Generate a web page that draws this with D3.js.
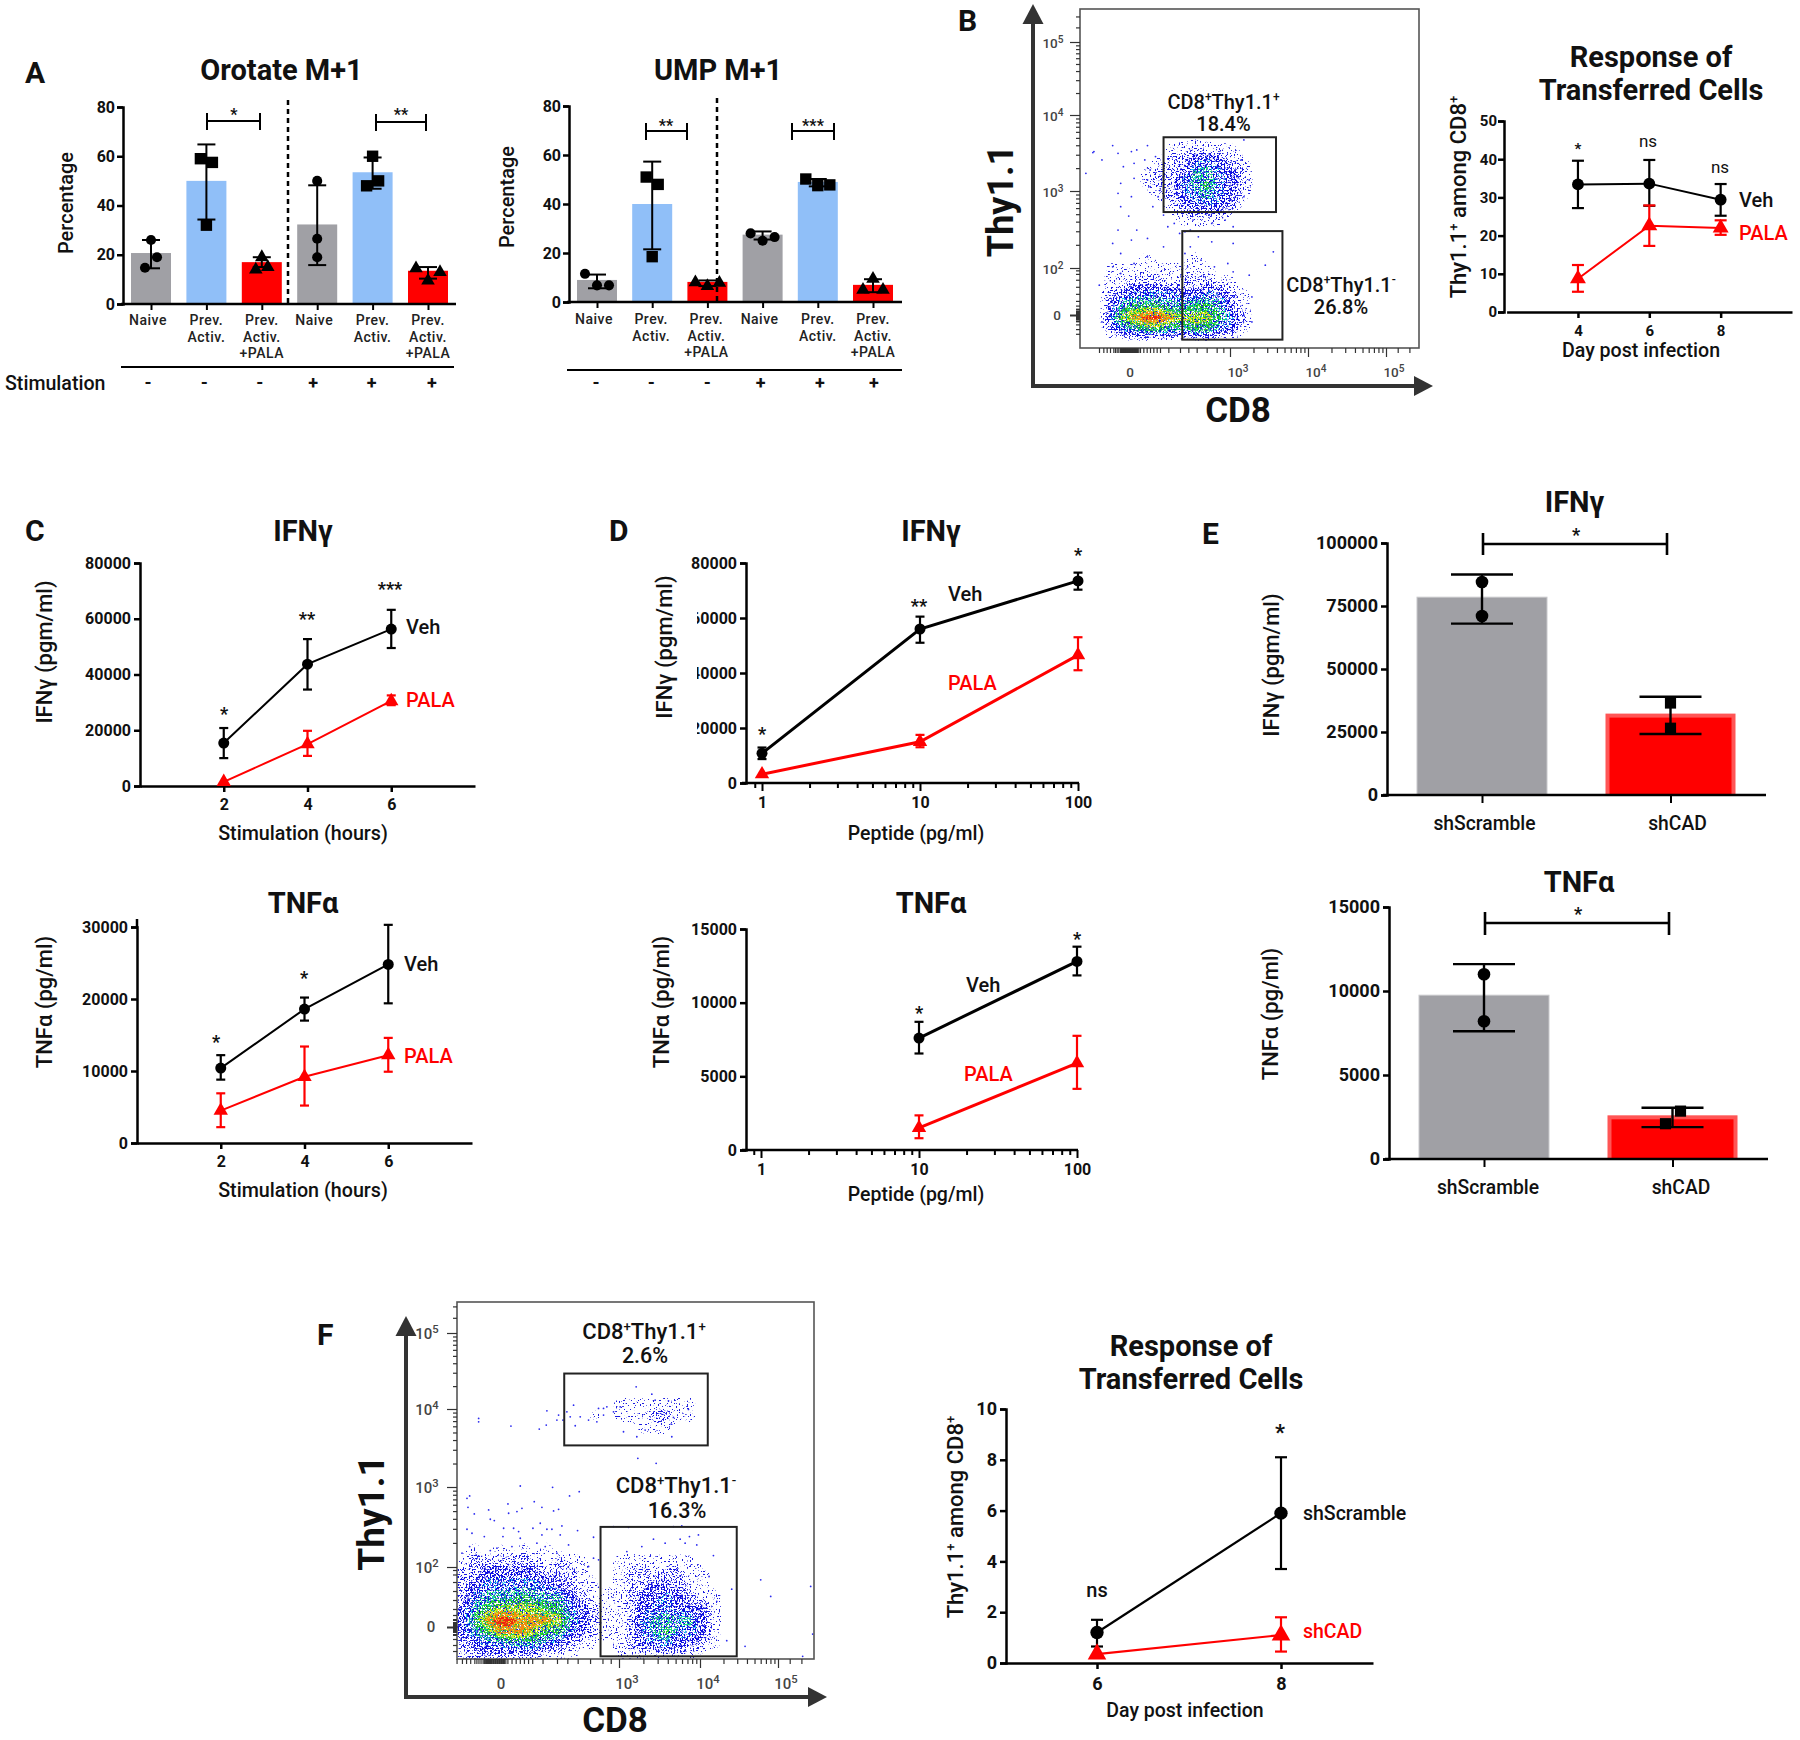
<!DOCTYPE html>
<html><head><meta charset="utf-8">
<script src="https://cdn.jsdelivr.net/npm/d3@7"></script>
<style>html,body{margin:0;background:#fff}svg{display:block}text{font-family:Roboto,"Noto Sans",sans-serif;fill:#111}</style>
</head><body>
<script>
// ---------- DATA: panel A ----------
const barCategories = ["Naive","Prev. Activ.","Prev. Activ. +PALA","Naive","Prev. Activ.","Prev. Activ. +PALA"];
const stimulationSigns = ["-","-","-","+","+","+"];
const orotateMeans = [20.7,50,17,32.3,53.5,13.5];
const orotateLow = [14.5,34.3,15,15.8,46.8,10.3];
const orotateHigh = [26,64.8,19,48.2,59.5,15];
const orotatePoints = [[26,19,14.7],[59,57.5,32],[19,14,15],[50,26.5,19],[60,50,48],[14.5,13,9.5]];
const umpMeans = [9,40,8.2,27.5,49,7];
const umpLow = [5.6,21.5,6.5,25.5,47.2,4];
const umpHigh = [11.2,57.3,8.8,28.8,50.2,9.3];
const umpPoints = [[11.5,6.8,6.8],[51,48,18.5],[8,6.5,7.8],[28,26.5,25],[50.2,47.5,47.8],[9.5,5,5]];
const barTicks = [0,20,40,60,80];
// ---------- DATA: panel B response ----------
const dayB = [4,6,8];
const vehB = [33.4,33.6,29.4], vehBLow = [27.2,27.8,25.2], vehBHigh = [39.6,39.8,33.5];
const palaB = [8.7,22.6,22], palaBLow = [5.3,17.3,20.2], palaBHigh = [12.3,27.9,24];
// ---------- DATA: panel C ----------
const hours = [2,4,6];
const vehIfnC = [15400,43700,56300], vehIfnCLow = [10000,34600,49500], vehIfnCHigh = [20800,52700,63200];
const palaIfnC = [1500,15000,30500], palaIfnCLow = [null,10800,29000], palaIfnCHigh = [null,19800,32500];
const vehTnfC = [10400,18600,24800], vehTnfCLow = [8800,17000,19400], vehTnfCHigh = [12200,20200,30300];
const palaTnfC = [4500,9200,12200], palaTnfCLow = [2200,5200,9900], palaTnfCHigh = [6900,13400,14600];
// ---------- DATA: panel D ----------
const peptide = [1,10,100];
const peptideTnf = [10,100];
const vehIfnD = [10800,56000,73500], vehIfnDLow = [8700,51000,70300], vehIfnDHigh = [12900,60500,76500];
const palaIfnD = [3200,15000,46500], palaIfnDLow = [null,13000,41000], palaIfnDHigh = [null,17500,53000];
const vehTnfD = [7600,12800], vehTnfDLow = [6550,11850], vehTnfDHigh = [8700,13800];
const palaTnfD = [1500,5900], palaTnfDLow = [800,4150], palaTnfDHigh = [2350,7750];
// ---------- DATA: panel E ----------
const shCategories = ["shScramble","shCAD"];
const ifnE = [78500,32300], ifnELow = [68000,24200], ifnEHigh = [87500,39000];
const ifnEPoints = [[84500,71000],[36500,26500]];
const tnfE = [9750,2600], tnfELow = [7600,1900], tnfEHigh = [11600,3050];
const tnfEPoints = [[11000,8200],[2850,2100]];
// ---------- DATA: panel F response ----------
const dayF = [6,8];
const scrambleF = [1.2,5.9], scrambleFLow = [0.65,3.7], scrambleFHigh = [1.7,8.1];
const cadF = [0.35,1.1], cadFLow = [null,0.45], cadFHigh = [null,1.8];
// ---------- DATA: cytometry density, one digit per bin (0 empty .. 9 hottest) ----------
const flowBDensity = [
"","","","","","","","","","","",
"00000001121110",
"00000012234321000000",
"00000122355432000000",
"00000122456432000000",
"00000012345431000000",
"00000001233320000000",
"00000000111100000000",
"","",
"00000100010000",
"00111111111000",
"00112221222110",
"00234444334421000000",
"00356665566531000000",
"00478998777642000000",
"00245665566431000000",
""];
const flowFDensity = [
"","","","","","","","",
"000000000000011111110000",
"000000000001011122110000",
"000000000000000111000000",
"","","","","","","","","",
"010101010000000000000000",
"122222212110011111110000",
"223333322210012212211000",
"234444433211012233211000",
"245556555321112334321100",
"356777766432112344333100",
"368998887532112455553100",
"356888766432112456443100",
"234455543211012344332100",
"122222211100011111110000"];
// isolated events, in plot channel units
const flowBEvents = [[285,437],[248,458],[265,480],[235,520],[295,460],[320,455],[330,450],[350,437],[305,500],[325,490],[345,480],[355,510],[365,470],[300,550],[325,535],[350,540],[295,580],[355,560],[370,590],[320,590],[300,620],[360,620],[315,648],[380,645],[400,670],[435,660],[465,645],[495,660],[510,680],[470,670],[388,680],[295,690],[330,690],[410,700],[285,730],[320,720],[350,715],[380,740],[350,770],[420,695],[430,690],[445,710],[470,725],[510,730],[430,740],[420,760],[585,755],[570,795],[540,825],[510,815],[475,800],[450,780],[300,760],[325,790],[260,855],[545,890],[545,965],[530,945],[265,965],[500,790],[425,800],[285,800],[300,820],[530,420],[525,480],[540,540],[530,590],[505,600],[250,455]];
const flowFEvents = [[415,415],[415,425],[512,438],[597,447],[620,392],[618,435],[655,405],[650,420],[668,420],[680,395],[700,375],[690,410],[705,437],[720,410],[745,420],[770,425],[775,385],[790,385],[800,380],[790,405],[820,395],[840,380],[888,320],[935,342],[945,360],[985,362],[1045,388],[995,470],[890,470],[850,455],[915,450],[993,432],[1000,412],[893,535],[948,550],[540,618],[637,622],[717,635],[688,648],[582,665],[380,655],[388,648],[383,682],[445,690],[503,672],[545,685],[530,695],[505,700],[402,702],[450,718],[462,722],[605,682],[640,693],[655,688],[380,748],[395,760],[432,770],[490,745],[520,745],[535,755],[578,745],[600,730],[620,748],[635,748],[665,738],[712,752],[760,772],[488,770],[540,775],[605,765],[660,765],[590,790],[615,800],[650,820],[685,795],[515,800],[450,812],[470,805],[388,800],[365,820],[415,828],[760,835],[745,860],[775,840],[860,815],[905,800],[940,778],[975,790],[1020,778],[1048,770],[1075,765],[1035,790],[1070,795],[1120,827],[1107,890],[1175,928],[1262,900],[1292,950],[1412,920],[1418,1063],[1388,1130],[1215,1100],[1160,1083],[1130,965],[1000,740],[1025,738],[865,742],[820,740]];
const flowBGates = [[380,590,412,636],[415,602,693,1018]];
const flowFGates = [[672,1103,280,496],[781,1190,741,1130]];
const flowDecades = [2,3,4,5];
const nearZeroY = [-0.8,-0.6,-0.4,-0.25,-0.15,-0.1,-0.05,0,0.05,0.1,0.15,0.25,0.4,0.6,0.9,1.2,1.5,1.75,1.9];
const nearZeroX = [-0.93,-0.8,-0.7,-0.6,-0.5,-0.45,-0.4,-0.35,-0.3,-0.27,-0.25,-0.22,-0.2,-0.18,-0.16,-0.14,-0.12,-0.1,-0.05,0,0.05,0.1,0.15,0.2,0.25,0.3,0.4,0.5,0.6,0.7,0.8,0.9,1.15,1.5,1.75,2];

// ---------- HELPERS ----------
const svg = d3.select("body").append("svg").attr("width",1800).attr("height",1740);
const defs = svg.append("defs");
function txt(x,y,s,o={}){
  const t = svg.append("text").attr("x",x).attr("y",y).text(s)
    .attr("font-size",o.size||16).attr("font-weight",o.weight||500)
    .attr("text-anchor",o.anchor||"start");
  if(o.fill) t.style("fill",o.fill);
  if(o.spacing) t.attr("letter-spacing",o.spacing);
  if(o.rotate) t.attr("transform",`rotate(-90 ${x} ${y})`);
  return t;
}
function rich(x,y,parts,o={}){
  const t = txt(x,y,"",o);
  const fs=o.size||16, sup=o.sup||0.6;
  parts.forEach(([s,up],i)=>{
    const ts = t.append("tspan").text(s);
    if(up) ts.attr("font-size",fs*sup).attr("dy",-fs*0.38);
    else if(i>0 && parts[i-1][1]) ts.attr("dy",fs*0.38);
  });
  return t;
}
const star = (x,cy,s,size=18)=>txt(x,cy+size*0.52,s,{size,weight:700,anchor:"middle"});
function styleAxis(g,size,sw,weight=700){
  g.selectAll("text").attr("font-size",size).attr("font-weight",weight);
  g.selectAll("path,line").attr("stroke","#000").attr("stroke-width",sw);
  g.attr("font-family",null);
}
function yAxis(y,ticks,atX,size,sw=2.5,pad=2,tick=6){
  const g = svg.append("g").attr("transform",`translate(${atX},0)`)
    .call(d3.axisLeft(y).tickValues(ticks).tickSizeOuter(0).tickSize(tick).tickPadding(pad).tickFormat(d3.format("d")));
  styleAxis(g,size,sw); return g;
}
const symbolOf = {circle:d3.symbolCircle,square:d3.symbolSquare,triangle:d3.symbolTriangle};
function mark(kind,area,x,y,fill="#000"){
  svg.append("path").attr("d",d3.symbol().type(symbolOf[kind]).size(area)())
    .attr("transform",`translate(${x},${y})`).attr("fill",fill);
}
function errorBar(x,y0,y1,cap,color,sw){
  const g = svg.append("g").attr("stroke",color).attr("stroke-width",sw).attr("fill","none");
  g.append("line").attr("x1",x).attr("x2",x).attr("y1",y0).attr("y2",y1);
  [y0,y1].forEach(v=>g.append("line").attr("x1",x-cap/2).attr("x2",x+cap/2).attr("y1",v).attr("y2",v));
}
function bracket(x1,x2,yMid,yTop,yBot,sw=2){
  const g = svg.append("g").attr("stroke","#000").attr("stroke-width",sw).attr("fill","none");
  g.append("line").attr("x1",x1).attr("x2",x2).attr("y1",yMid).attr("y2",yMid);
  [x1,x2].forEach(v=>g.append("line").attr("x1",v).attr("x2",v).attr("y1",yTop).attr("y2",yBot));
}

// ---------- PANEL A ----------
const barFills = ["#a0a0a5","#90bff8","#ff0000"];
const barKinds = ["circle","square","triangle"];
const orotateJitter = [[0,6,-6],[-6,6,0],[0,-6,6],[0,0,0],[0,6,-6],[-12,12,0]];
const umpJitter = [[-12,0,12],[-6,6,0],[-12,0,12],[-12,12,0],[-12,0,12],[0,-10,10]];
function barPanel(c){
  const x = d3.scalePoint().domain(d3.range(6)).range(c.xr);
  const y = d3.scaleLinear().domain([0,80]).range(c.yr);
  svg.append("g").selectAll("rect").data(c.means).join("rect")
    .attr("x",(d,i)=>x(i)-20).attr("width",40).attr("y",d=>y(d)).attr("height",d=>y(0)-y(d))
    .attr("fill",(d,i)=>barFills[i%3]);
  c.means.forEach((d,i)=>{
    c.points[i].forEach((v,k)=>mark(barKinds[i%3],i%3===0?80:i%3===1?130:80,x(i)+c.jitter[i][k],y(v)));
    errorBar(x(i),y(c.low[i]),y(c.high[i]),18,"#000",2);
  });
  yAxis(y,barTicks,c.axisX,16,2.5,2);
  const gx = svg.append("g").attr("transform",`translate(0,${c.yr[0]})`)
    .call(d3.axisBottom(x).tickSize(6).tickFormat(""));
  gx.select(".domain").remove();
  styleAxis(gx,1,2);
  svg.append("line").attr("x1",c.axisX-2).attr("x2",c.axisEnd).attr("y1",c.yr[0]).attr("y2",c.yr[0]).attr("stroke","#000").attr("stroke-width",2.5);
  svg.append("line").attr("x1",c.dash).attr("x2",c.dash).attr("y1",c.dashTop).attr("y2",c.yr[0])
    .attr("stroke","#000").attr("stroke-width",2.5).attr("stroke-dasharray","5 4");
  barCategories.forEach((s,i)=>{
    const lines = s==="Naive"?["Naive"]:s.includes("PALA")?["Prev.","Activ.","+PALA"]:["Prev.","Activ."];
    lines.forEach((l,k)=>txt(x(i)+c.labelDx[i],c.labelY+k*16.6,l,{size:14,anchor:"middle",spacing:0.5,fill:"#222"}));
    txt(x(i)+c.signDx[i],c.signY,stimulationSigns[i],{size:18,weight:700,anchor:"middle"});
  });
  svg.append("line").attr("x1",c.ruleX[0]).attr("x2",c.ruleX[1]).attr("y1",c.ruleY).attr("y2",c.ruleY).attr("stroke","#000").attr("stroke-width",2);
  txt(c.titleX,80,c.title,{size:29,weight:700,anchor:"middle"});
  txt(c.percentX,c.percentY,"Percentage",{size:20,anchor:"middle",rotate:true});
}
barPanel({title:"Orotate M+1",titleX:281.5,xr:[151,428],yr:[304,107],axisX:123,axisEnd:456,means:orotateMeans,low:orotateLow,high:orotateHigh,points:orotatePoints,jitter:orotateJitter,dash:288,dashTop:100,labelDx:[-3,0,0,-3,0,0],signDx:[-3,-2,-2,-4,-1,4],labelY:325,signY:389,ruleX:[121,454],ruleY:367,percentX:73,percentY:203});
barPanel({title:"UMP M+1",titleX:718,xr:[597,873],yr:[302,106],axisX:569,axisEnd:902,means:umpMeans,low:umpLow,high:umpHigh,points:umpPoints,jitter:umpJitter,dash:717,dashTop:98,labelDx:[-3,-1,-1,-3,0,0],signDx:[-1,-1,0,-2,2,1],labelY:324,signY:389,ruleX:[567,902],ruleY:370,percentX:514,percentY:197});
bracket(207,260,121,113,130); star(234,112,"*",16);
bracket(376,426,122,114,131); star(401,112,"**",16);
bracket(646,687,131,123,140); star(666,123,"**",16);
bracket(792,834,131,123,140); star(813,123,"***",16);
txt(5,390,"Stimulation",{size:19.6});
[["A",25,83],["B",958,31],["C",25,541],["D",609,541],["E",1202,544],["F",317,1345]].forEach(([s,x,y])=>txt(x,y,s,{size:30,weight:700}));

// ---------- LINE PANELS ----------
function linePanel(c){
  const line = d3.line().x(d=>d[0]).y(d=>d[1]);
  c.series.forEach(s=>{
    const pts = s.values.map((v,i)=>[c.x(c.xvals[i]),c.y(v)]);
    svg.append("path").attr("d",line(pts)).attr("fill","none").attr("stroke",s.color).attr("stroke-width",c.lineW);
    s.values.forEach((v,i)=>{
      if(s.low[i]!=null) errorBar(c.x(c.xvals[i]),c.y(s.low[i]),c.y(s.high[i]),c.cap,s.color,2.2);
      mark(s.kind,s.kind==="circle"?c.circle:c.tri,c.x(c.xvals[i]),c.y(v),s.color);
    });
    txt(s.labelX,s.labelY,s.label,{size:c.labelSize||20,fill:s.color==="#000"?"#111":s.color});
  });
}
function linAxes(x,y,xticks,yticks,o){
  yAxis(y,yticks,o.ax,o.size,2.5,o.pad||2);
  const g = svg.append("g").attr("transform",`translate(0,${o.base})`)
    .call(d3.axisBottom(x).tickValues(xticks).tickSize(6).tickSizeOuter(0).tickPadding(o.xpad||7).tickFormat(d3.format("d")));
  styleAxis(g,o.size,2.5);
}
function logAxes(x,y,yticks,o){
  const yg = yAxis(y,yticks,o.ax,16,2.5,3);
  const minor = [0.9,...[1,2,3,4,5,6,7,8,9].flatMap(k=>[k,k*10]),100];
  const g = svg.append("g").attr("transform",`translate(0,${o.base})`)
    .call(d3.axisBottom(x).tickValues(minor).tickSize(5).tickPadding(9).tickFormat(d=>[1,10,100].includes(d)?d:""));
  styleAxis(g,16,2);
  g.select(".domain").remove();
  g.selectAll(".tick line").attr("y2",d=>[1,10,100].includes(d)?8:5);
  svg.append("line").attr("x1",o.ax-4).attr("x2",x(100)+1).attr("y1",o.base).attr("y2",o.base).attr("stroke","#000").attr("stroke-width",2.5);
  return yg;
}
const titleS = {size:29,weight:700,anchor:"middle"};
const ax22 = {size:22,anchor:"middle",rotate:true};
const RED="#ff0000", BLK="#000";

// panel B response
{
  const x = d3.scaleLinear().domain([2,10]).range([1506.6,1792]);
  const y = d3.scaleLinear().domain([0,50]).range([312,121]);
  linAxes(x,y,dayB,[0,10,20,30,40,50],{ax:1504,size:15,base:312,pad:1,xpad:7});
  linePanel({x,y,xvals:dayB,cap:12,lineW:2,circle:110,tri:110,labelSize:20,series:[
    {values:vehB,low:vehBLow,high:vehBHigh,color:BLK,kind:"circle",label:"Veh",labelX:1739,labelY:207},
    {values:palaB,low:palaBLow,high:palaBHigh,color:RED,kind:"triangle",label:"PALA",labelX:1739,labelY:240}]});
  star(1578,146,"*",15);
  txt(1648,147,"ns",{size:17,weight:400,anchor:"middle"}); txt(1720,173,"ns",{size:17,weight:400,anchor:"middle"});
  txt(1651,67,"Response of",titleS); txt(1651,100,"Transferred Cells",titleS);
  rich(1466,197,[["Thy1.1"],["+",1],[" among CD8"],["+",1]],ax22);
  txt(1641,357,"Day post infection",{size:19.6,anchor:"middle"});
}
// panel C
{
  const x = d3.scaleLinear().domain([0,8]).range([140,475]);
  const y = d3.scaleLinear().domain([0,80000]).range([786,563]);
  linAxes(x,y,hours,[0,20000,40000,60000,80000],{ax:140,size:16,base:786,pad:3});
  linePanel({x,y,xvals:hours,cap:9,lineW:2,circle:95,tri:90,series:[
    {values:vehIfnC,low:vehIfnCLow,high:vehIfnCHigh,color:BLK,kind:"circle",label:"Veh",labelX:406,labelY:634},
    {values:palaIfnC,low:palaIfnCLow,high:palaIfnCHigh,color:RED,kind:"triangle",label:"PALA",labelX:406,labelY:707}]});
  star(224,711,"*"); star(307,616,"**"); star(390,586,"***");
  txt(303,541,"IFNγ",titleS);
  txt(52,652,"IFNγ (pgm/ml)",ax22);
  txt(303,840,"Stimulation (hours)",{size:19.7,anchor:"middle"});
}
{
  const x = d3.scaleLinear().domain([0,8]).range([137,472]);
  const y = d3.scaleLinear().domain([0,30000]).range([1143,927]);
  linAxes(x,y,hours,[0,10000,20000,30000],{ax:137,size:16,base:1143,pad:3});
  svg.append("line").attr("x1",137).attr("x2",137).attr("y1",927).attr("y2",919).attr("stroke","#000").attr("stroke-width",2.5);
  linePanel({x,y,xvals:hours,cap:9,lineW:2,circle:95,tri:90,series:[
    {values:vehTnfC,low:vehTnfCLow,high:vehTnfCHigh,color:BLK,kind:"circle",label:"Veh",labelX:404,labelY:971},
    {values:palaTnfC,low:palaTnfCLow,high:palaTnfCHigh,color:RED,kind:"triangle",label:"PALA",labelX:404,labelY:1063}]});
  star(216,1039,"*"); star(304,975,"*");
  txt(303,913,"TNFα",titleS);
  txt(52,1002,"TNFα (pg/ml)",ax22);
  txt(303,1197,"Stimulation (hours)",{size:19.7,anchor:"middle"});
}
// panel D
{
  const x = d3.scaleLog().domain([1,100]).range([762,1078]);
  const y = d3.scaleLinear().domain([0,80000]).range([783,563]);
  const cp = defs.append("clipPath").attr("id","clipD");
  cp.append("rect").attr("x",680).attr("y",550).attr("width",120).attr("height",26);
  cp.append("rect").attr("x",697).attr("y",576).attr("width",120).attr("height",240);
  const yg = logAxes(x,y,[0,20000,40000,60000,80000],{ax:746,base:783});
  svg.append("g").attr("clip-path","url(#clipD)").node().appendChild(yg.node());
  linePanel({x,y,xvals:peptide,cap:9,lineW:3,circle:95,tri:90,series:[
    {values:vehIfnD,low:vehIfnDLow,high:vehIfnDHigh,color:BLK,kind:"circle",label:"Veh",labelX:948,labelY:601},
    {values:palaIfnD,low:palaIfnDLow,high:palaIfnDHigh,color:RED,kind:"triangle",label:"PALA",labelX:948,labelY:690}]});
  star(762,731,"*"); star(919,603,"**"); star(1078,552,"*");
  txt(931,541,"IFNγ",titleS);
  txt(672,647,"IFNγ (pgm/ml)",ax22);
  txt(916,840,"Peptide (pg/ml)",{size:19.5,anchor:"middle"});
}
{
  const x = d3.scaleLog().domain([1,100]).range([761,1077]);
  const y = d3.scaleLinear().domain([0,15000]).range([1150,929]);
  logAxes(x,y,[0,5000,10000,15000],{ax:746,base:1150});
  linePanel({x,y,xvals:peptideTnf,cap:9,lineW:3,circle:95,tri:90,series:[
    {values:vehTnfD,low:vehTnfDLow,high:vehTnfDHigh,color:BLK,kind:"circle",label:"Veh",labelX:966,labelY:992},
    {values:palaTnfD,low:palaTnfDLow,high:palaTnfDHigh,color:RED,kind:"triangle",label:"PALA",labelX:964,labelY:1081}]});
  star(919,1010,"*"); star(1077,936,"*");
  txt(931,913,"TNFα",titleS);
  txt(669,1002,"TNFα (pg/ml)",ax22);
  txt(916,1201,"Peptide (pg/ml)",{size:19.5,anchor:"middle"});
}
// panel E
function shBars(c){
  const x = d3.scalePoint().domain(shCategories).range(c.xr);
  const y = d3.scaleLinear().domain([0,c.max]).range(c.yr);
  const w=130;
  const h=(d)=>y(0)-y(d);
  svg.append("rect").attr("x",x(shCategories[0])-w/2).attr("width",w).attr("y",y(c.means[0])).attr("height",h(c.means[0])).attr("fill","#a0a0a5").attr("stroke","#c8c8cb").attr("stroke-width",1);
  svg.append("rect").attr("x",x(shCategories[1])-w/2).attr("width",w).attr("y",y(c.means[1])).attr("height",h(c.means[1])).attr("fill","#ff5555");
  svg.append("rect").attr("x",x(shCategories[1])-w/2+4).attr("width",w-8).attr("y",y(c.means[1])+4).attr("height",h(c.means[1])-4).attr("fill",RED);
  shCategories.forEach((s,i)=>{
    c.points[i].forEach((v,k)=>mark(i?"square":"circle",125,x(s)+c.jitter[i][k],y(v)));
    errorBar(x(s),y(c.low[i]),y(c.high[i]),62,"#000",2.4);
    txt(x(s)+c.labelDx[i],c.labelY,s,{size:19.3,anchor:"middle"});
  });
  yAxis(y,c.ticks,c.ax,18,2.5,3);
  const g = svg.append("g").attr("transform",`translate(0,${c.yr[0]})`).call(d3.axisBottom(x).tickSize(8).tickFormat(""));
  g.select(".domain").remove(); styleAxis(g,1,2);
  svg.append("line").attr("x1",c.ax-4).attr("x2",c.end).attr("y1",c.yr[0]).attr("y2",c.yr[0]).attr("stroke","#000").attr("stroke-width",2.5);
}
shBars({xr:[1482,1670.5],yr:[795,543],max:100000,means:ifnE,low:ifnELow,high:ifnEHigh,points:ifnEPoints,jitter:[[0,0],[0,0]],ticks:[0,25000,50000,75000,100000],ax:1387,end:1766,labelY:830,labelDx:[2.5,7]});
bracket(1483,1667,544,533,555,2.6); star(1576,532,"*");
txt(1574.5,512,"IFNγ",titleS);
txt(1279,665,"IFNγ (pgm/ml)",ax22);
shBars({xr:[1484,1672.5],yr:[1159,907],max:15000,means:tnfE,low:tnfELow,high:tnfEHigh,points:tnfEPoints,jitter:[[0,0],[8,-7]],ticks:[0,5000,10000,15000],ax:1389,end:1768,labelY:1194,labelDx:[4,8.5]});
bracket(1485,1669,923,912,935,2.6); star(1578,911,"*");
txt(1579,892,"TNFα",titleS);
txt(1277.5,1014,"TNFα (pg/ml)",ax22);
// panel F response
{
  const x = d3.scaleLinear().domain([5,9]).range([1005,1373]);
  const y = d3.scaleLinear().domain([0,10]).range([1663,1409]);
  linAxes(x,y,dayF,[0,2,4,6,8,10],{ax:1006,size:18,base:1663,pad:3,xpad:8});
  linePanel({x,y,xvals:dayF,cap:12,lineW:2.2,circle:140,tri:150,labelSize:19.5,series:[
    {values:scrambleF,low:scrambleFLow,high:scrambleFHigh,color:BLK,kind:"circle",label:"shScramble",labelX:1303,labelY:1520},
    {values:cadF,low:cadFLow,high:cadFHigh,color:RED,kind:"triangle",label:"shCAD",labelX:1303,labelY:1638}]});
  txt(1097,1597,"ns",{size:20,anchor:"middle"}); star(1280,1429,"*",22);
  txt(1191,1356,"Response of",titleS); txt(1191,1389,"Transferred Cells",titleS);
  rich(963,1517,[["Thy1.1"],["+",1],[" among CD8"],["+",1]],ax22);
  txt(1185,1717,"Day post infection",{size:19.5,anchor:"middle"});
}

// ---------- CYTOMETRY PLOTS ----------
const speck = [["s1",7,0.62,1],["s2",7,0.58,2],["s3",7,0.53,3],["s4",7,0.6,4],["s5",7,0.55,5],["s6",7,0.51,6],["s7",7,0.5,7],["s8",7,0.46,8],["s9",7,0.44,9]];
speck.forEach(([id,k,t,seed])=>{
  const f = defs.append("filter").attr("id",id).attr("x",0).attr("y",0).attr("width","100%").attr("height","100%").attr("color-interpolation-filters","sRGB");
  f.append("feTurbulence").attr("type","fractalNoise").attr("baseFrequency",0.62).attr("numOctaves",1).attr("seed",seed).attr("result","n");
  f.append("feColorMatrix").attr("in","n").attr("type","matrix").attr("values",`0 0 0 0 0 0 0 0 0 0 0 0 0 0 0 ${k*3} 0 0 0 ${-k*3*t}`).attr("result","m");
  f.append("feComposite").attr("in","SourceGraphic").attr("in2","m").attr("operator","in");
});
const levelColors = ["#1c1ce0","#1414e6","#0a0ae0","#18c8e8","#18dc70","#22c422","#e8e41c","#f08a10","#ee2410"];
function flowPlot(c){
  const b=c.box;
  const bx = d3.scaleLinear().domain([0,c.cols]).range([b[0],b[0]+c.cols*c.cell]);
  const by = d3.scaleLinear().domain([0,c.density.length]).range([b[1],b[1]+c.density.length*c.cell]);
  const grid = c.density.flatMap(r=>d3.range(c.cols).map(i=>+(r[i]||0)));
  const contours = d3.contours().size([c.cols,c.density.length]).thresholds(d3.range(9).map(d=>d+0.5))(grid);
  const path = d3.geoPath(d3.geoTransform({point(x,y){this.stream.point(bx(x),by(y));}}));
  const id="clip"+c.name;
  defs.append("clipPath").attr("id",id).append("rect").attr("x",b[0]).attr("y",b[1]).attr("width",b[2]-b[0]).attr("height",b[3]-b[1]);
  const root = svg.append("g").attr("clip-path",`url(#${id})`);
  contours.forEach((ct,i)=>root.append("path").attr("d",path(ct)).attr("fill",levelColors[i]).attr("filter",`url(#s${i+1})`));
  const ex = d3.scaleLinear().domain(c.chanX).range([b[0],b[2]]);
  const ey = d3.scaleLinear().domain(c.chanY).range([b[1],b[3]]);
  root.selectAll("circle.ev").data(c.events).join("circle").attr("class","ev")
    .attr("cx",d=>ex(d[0])).attr("cy",d=>ey(d[1])).attr("r",0.9).attr("fill","#2a2af0");
  // gates
  svg.append("g").selectAll("rect").data(c.gates).join("rect")
    .attr("x",d=>ex(d[0])).attr("width",d=>ex(d[1])-ex(d[0])).attr("y",d=>ey(d[2])).attr("height",d=>ey(d[3])-ey(d[2]))
    .attr("fill","none").attr("stroke","#222").attr("stroke-width",2);
  svg.append("rect").attr("x",b[0]).attr("y",b[1]).attr("width",b[2]-b[0]).attr("height",b[3]-b[1]).attr("fill","none").attr("stroke","#555").attr("stroke-width",1.6);
  // axes
  const minorOf = d=>[2,3,4,5,6,7,8,9].map(k=>d+Math.log10(k));
  const yScale = d3.scaleLinear().domain([0,2,3,4,5]).range(c.yLevels);
  const xScale = d3.scaleLinear().domain([0,3,4,5]).range(c.xLevels);
  const yTicks = [...nearZeroY,...[2,3,4].flatMap(d=>[d,...minorOf(d)]),5,5.2,5.35];
  const xTicks = [...nearZeroX,...[2.3,2.6,2.8,3].flatMap(d=>d===3?[3,...minorOf(3),4,...minorOf(4),5,5.15,5.3]:[d])];
  const gy = svg.append("g").attr("transform",`translate(${b[0]},0)`).call(d3.axisLeft(yScale).tickValues(yTicks).tickSize(4).tickFormat(""));
  gy.select(".domain").remove(); styleAxis(gy,1,1,400);
  gy.selectAll(".tick line").attr("x2",d=>flowDecades.includes(d)||d===0?-10:d%1===0?-6:-4).attr("stroke","#333").attr("stroke-width",d=>Math.abs(d)<0.3?2:1.2);
  const gx = svg.append("g").attr("transform",`translate(0,${b[3]})`).call(d3.axisBottom(xScale).tickValues(xTicks).tickSize(4).tickFormat(""));
  gx.select(".domain").remove(); styleAxis(gx,1,1,400);
  gx.selectAll(".tick line").attr("y2",d=>d===3||d===4||d===5?9:5).attr("stroke","#333").attr("stroke-width",d=>Math.abs(d)<0.25?2.4:1.2);
  const tickStyle = {size:c.tickSize,weight:500,fill:"#444",anchor:"middle",sup:0.75};
  c.yLabels.forEach((l,i)=>{ l===0 ? txt(c.yLabelX+4,yScale(0)+5,"0",tickStyle) : rich(c.yLabelX,yScale(l)+6,[["10"],[String(l),1]],tickStyle); });
  c.xLabels.forEach((l,i)=>{ l===0 ? txt(xScale(0)+c.zeroDx,c.xLabelY,"0",tickStyle) : rich(xScale(l)+c.xLabelDx,c.xLabelY,[["10"],[String(l),1]],tickStyle); });
  // arrows
  const ar = c.arrows;
  svg.append("path").attr("d",`M${ar.x},${ar.yTop} L${ar.x},${ar.yBase} L${ar.xEnd},${ar.yBase}`).attr("fill","none").attr("stroke","#333").attr("stroke-width",4);
  svg.append("path").attr("d",`M${ar.x},${ar.yTip} L${ar.x+10.5},${ar.yTop} L${ar.x-10.5},${ar.yTop}Z`).attr("fill","#333");
  svg.append("path").attr("d",`M${ar.xTip},${ar.yBase} L${ar.xEnd},${ar.yBase-10} L${ar.xEnd},${ar.yBase+10}Z`).attr("fill","#333");
}
flowPlot({name:"B",box:[1080,9,1419,348],cols:28,cell:12.1,density:flowBDensity,events:flowBEvents,gates:flowBGates,chanX:[224,857],chanY:[28,1043],
  yLevels:[315,268,191,115,42],xLevels:[1130,1230,1308,1386],yLabels:[0,2,3,4,5],xLabels:[0,3,4,5],yLabelX:1053,zeroDx:0,xLabelDx:8,xLabelY:377,tickSize:13.5,
  arrows:{x:1033,yTip:4,yTop:24,yBase:386,xEnd:1414,xTip:1433}});
txt(1013,201,"Thy1.1",{size:36,weight:700,anchor:"middle",rotate:true});
txt(1238,422,"CD8",{size:35,weight:700,anchor:"middle"});
rich(1223.5,109,[["CD8"],["+",1],["Thy1.1"],["+",1]],{size:20,anchor:"middle"});
txt(1223.5,131,"18.4%",{size:20,anchor:"middle"});
rich(1341,292,[["CD8"],["+",1],["Thy1.1"],["-",1]],{size:20,anchor:"middle"});
txt(1341,314,"26.8%",{size:20,anchor:"middle"});

flowPlot({name:"F",box:[457,1302,814,1659],cols:30,cell:12,density:flowFDensity,events:flowFEvents,gates:flowFGates,chanX:[350,1422],chanY:[65,1138],
  yLevels:[1627,1567,1487,1409,1333],xLevels:[495,619,700,778],yLabels:[0,2,3,4,5],xLabels:[0,3,4,5],yLabelX:427,zeroDx:6,xLabelDx:8,xLabelY:1689,tickSize:15,
  arrows:{x:406,yTip:1316,yTop:1336,yBase:1697,xEnd:808,xTip:827}});
txt(384,1513,"Thy1.1",{size:37,weight:700,anchor:"middle",rotate:true});
txt(615,1731.5,"CD8",{size:35,weight:700,anchor:"middle"});
rich(644,1339,[["CD8"],["+",1],["Thy1.1"],["+",1]],{size:22,anchor:"middle"});
txt(645,1363,"2.6%",{size:21.5,anchor:"middle"});
rich(676,1493,[["CD8"],["+",1],["Thy1.1"],["-",1]],{size:22,anchor:"middle"});
txt(677,1518,"16.3%",{size:21.5,anchor:"middle"});
</script>
</body></html>
